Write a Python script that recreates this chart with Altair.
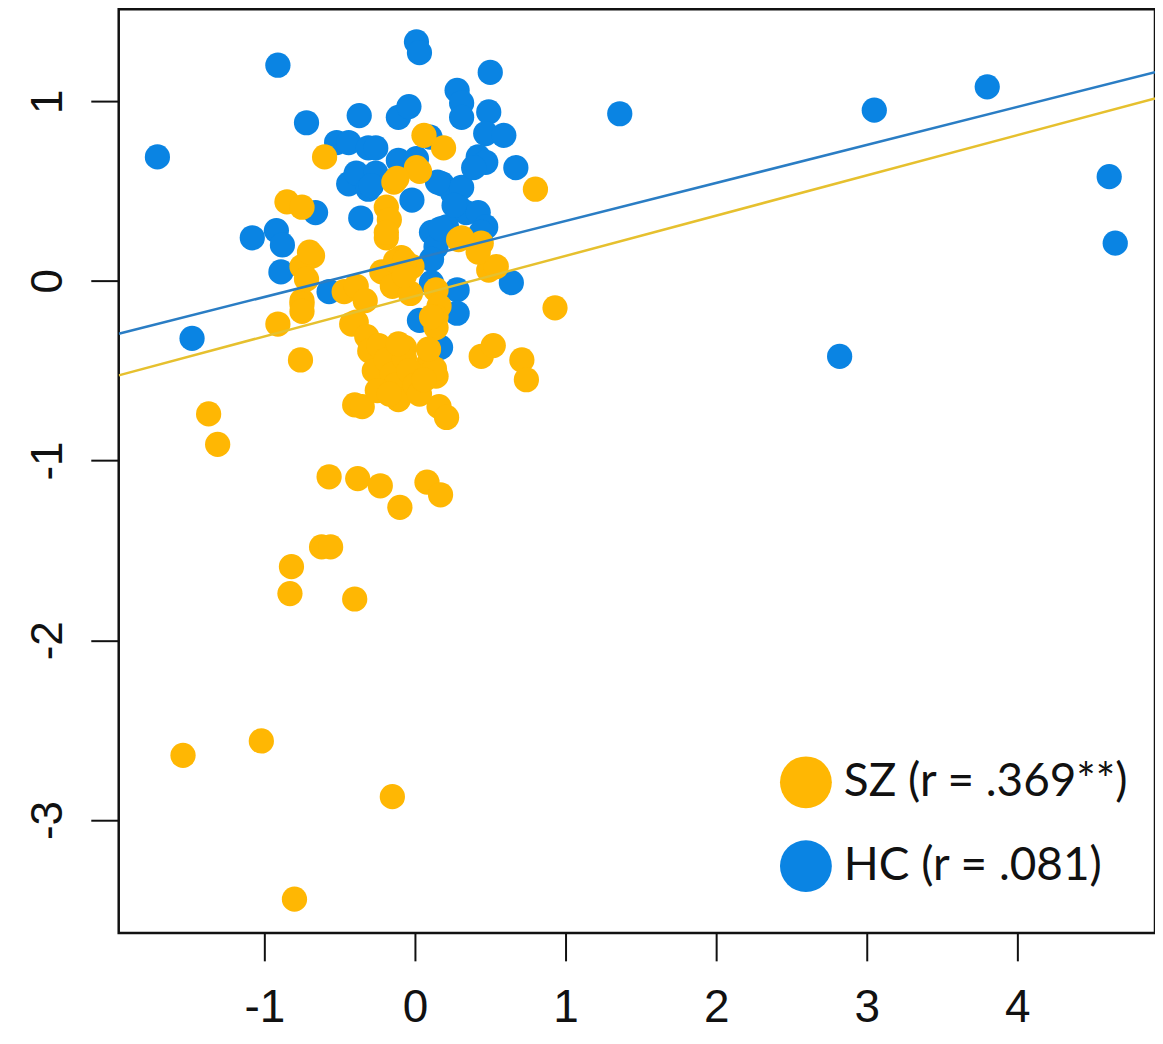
import altair as alt
import pandas as pd

# ---- data ----
hc_x = [-1.71, -0.91, 0.01, 0.03, 0.50, -0.72, -0.37, -0.11, -0.04, 0.28, 0.31, 0.31,
        0.49, 0.47, 0.59, 0.67, 0.42, 0.47, -0.52, -0.44, -0.31, -0.26, -0.11, 0.01,
        -0.44, -0.39, -0.26, -0.31, -0.02, 0.18, 0.25, 0.31, 0.29, 0.34, 0.42, 0.47,
        -0.66, -0.36, -1.08, -0.92, -0.88, -0.89, 0.11, 0.14, 0.11, 0.21, 0.64, -0.57,
        0.28, 0.28, 0.03, 0.17, 0.15, 0.26, 0.44, 0.39, 0.17, 0.11, -1.48, 1.36,
        3.05, 3.80, 4.61, 4.65, 2.82, -0.29, 0.10]
hc_y = [0.69, 1.20, 1.33, 1.27, 1.16, 0.88, 0.92, 0.91, 0.97, 1.06, 0.99, 0.91,
        0.94, 0.82, 0.81, 0.63, 0.69, 0.66, 0.77, 0.77, 0.74, 0.74, 0.67, 0.68,
        0.54, 0.60, 0.60, 0.51, 0.45, 0.54, 0.49, 0.52, 0.41, 0.38, 0.38, 0.30,
        0.38, 0.35, 0.24, 0.28, 0.20, 0.05, 0.27, 0.19, 0.12, 0.30, -0.01, -0.06,
        -0.05, -0.18, -0.22, -0.37, 0.55, 0.42, 0.27, 0.63, 0.29, -0.01, -0.32, 0.93,
        0.95, 1.08, 0.58, 0.21, -0.42, 0.53, 0.80]

sz_x = [-1.54, -1.02, -0.15, -0.80, -1.37, -1.31, -0.91, 0.93, 0.80, -0.57, -0.38, -0.23,
        -0.10, 0.08, 0.17, -0.62, -0.56, -0.82, -0.83, -0.40, -0.76, -0.40, -0.35, 0.16,
        0.21, 0.44, 0.52, 0.71, 0.74, -0.60, -0.85, -0.75, 0.06, 0.19, 0.01, -0.14,
        -0.19, -0.17, -0.19, 0.29, 0.44, 0.49, 0.54, -0.68, -0.75, -0.72, -0.75, -0.47,
        -0.39, -0.33, -0.22, -0.15, -0.09, -0.02, -0.03, 0.14, 0.16, 0.14, 0.14, -0.39,
        -0.42, -0.75, -0.75, 0.09, 0.14, 0.13, -0.09, -0.01, -0.07, -0.32, -0.30, -0.27,
        -0.24, -0.19, -0.15, -0.13, -0.11, -0.07, -0.04, 0.00, 0.03, 0.06, -0.25, -0.17,
        -0.11, 0.09, 0.42, -0.13, 0.03, -0.12, -0.07, -0.07, 0.31, 0.11, -0.19, -0.70]
sz_y = [-2.64, -2.56, -2.87, -3.44, -0.74, -0.91, -0.24, -0.15, 0.51, -1.09, -1.10, -1.14,
        -1.26, -1.12, -1.19, -1.48, -1.48, -1.59, -1.74, -1.77, -0.44, -0.69, -0.70, -0.70,
        -0.76, -0.42, -0.36, -0.44, -0.55, 0.69, 0.44, 0.41, 0.81, 0.74, 0.63, 0.55,
        0.41, 0.34, 0.24, 0.23, 0.21, 0.06, 0.08, 0.14, 0.08, 0.01, -0.11, -0.06,
        -0.03, -0.11, 0.05, -0.03, 0.13, 0.08, -0.07, -0.05, -0.14, -0.20, -0.26, -0.23,
        -0.24, -0.13, -0.17, -0.46, -0.53, -0.49, -0.62, -0.59, -0.37, -0.31, -0.39, -0.50,
        -0.36, -0.44, -0.52, -0.58, -0.66, -0.43, -0.50, -0.58, -0.63, -0.55, -0.61, -0.63,
        -0.35, -0.38, 0.16, 0.11, 0.61, 0.57, 0.11, 0.03, 0.24, -0.20, 0.27, 0.16]

groups = ["SZ (r = .369**)", "HC (r = .081)"]
fit_group = ["SZ", "HC"]
fit_intercept = [-0.085, 0.122]
fit_slope = [0.224, 0.2115]

x_ticks = [-1, 0, 1, 2, 3, 4]
y_ticks = [-3, -2, -1, 0, 1]
x_domain = [-1.967, 4.914]
y_domain = [-3.628, 1.511]

point_colors = ["#FFB703", "#0A84E3"]
line_colors = ["#E6C02E", "#2A7DC4"]

# ---- tables ----
points = pd.DataFrame({
    "x": hc_x + sz_x,
    "y": hc_y + sz_y,
    "group": [groups[1]] * len(hc_x) + [groups[0]] * len(sz_x),
    "draw": list(range(len(hc_x) + len(sz_x))),
})

rows = []
for g, a, b in zip(fit_group, fit_intercept, fit_slope):
    for xv in x_domain:
        rows.append({"x": xv, "y": a + b * xv, "line": g})
lines = pd.DataFrame(rows)

xs = alt.Scale(domain=x_domain, nice=False, zero=False)
ys = alt.Scale(domain=y_domain, nice=False, zero=False)

x_axis = alt.Axis(values=x_ticks, title=None, grid=False, domain=False,
                  tickSize=28, tickWidth=2, tickColor="#111111",
                  labelFont="Liberation Sans", labelFontSize=46, labelColor="#111111",
                  labelPadding=25, labelExpr="toString(datum.value)")
y_axis = alt.Axis(values=y_ticks, title=None, grid=False, domain=False,
                  tickSize=28, tickWidth=2, tickColor="#111111",
                  labelFont="Liberation Sans", labelFontSize=44, labelColor="#111111",
                  labelAngle=-90, labelAlign="center", labelBaseline="alphabetic",
                  labelPadding=29, labelExpr="toString(datum.value)")

pts = alt.Chart(points).mark_circle(size=640, opacity=1).encode(
    x=alt.X("x:Q", scale=xs, axis=x_axis),
    y=alt.Y("y:Q", scale=ys, axis=y_axis),
    color=alt.Color("group:N",
                    scale=alt.Scale(domain=groups, range=point_colors),
                    legend=alt.Legend(title=None, orient="none", legendX=663, legendY=749,
                                      symbolType="circle", symbolSize=2704,
                                      symbolStrokeWidth=0, symbolOpacity=1,
                                      labelFont="Lato", labelFontSize=46,
                                      labelColor="#111111", labelOffset=12,
                                      rowPadding=32, padding=0, labelLimit=600)),
    order=alt.Order("draw:Q"),
)

fit = alt.Chart(lines).mark_line(strokeWidth=2.5, clip=True).encode(
    x=alt.X("x:Q", scale=xs),
    y=alt.Y("y:Q", scale=ys),
    color=alt.Color("line:N", scale=alt.Scale(domain=fit_group, range=line_colors), legend=None),
    detail="line:N",
)

chart = alt.layer(pts, fit).resolve_scale(color="independent").properties(
    width=1039, height=926,
    padding={"left": 111, "top": 0, "right": 0, "bottom": 100},
    autosize=alt.AutoSizeParams(type="none"),
    background="white",
).configure_view(stroke="#111111", strokeWidth=2.5)

chart.save("out.html", embed_options={"renderer": "svg", "actions": False})
